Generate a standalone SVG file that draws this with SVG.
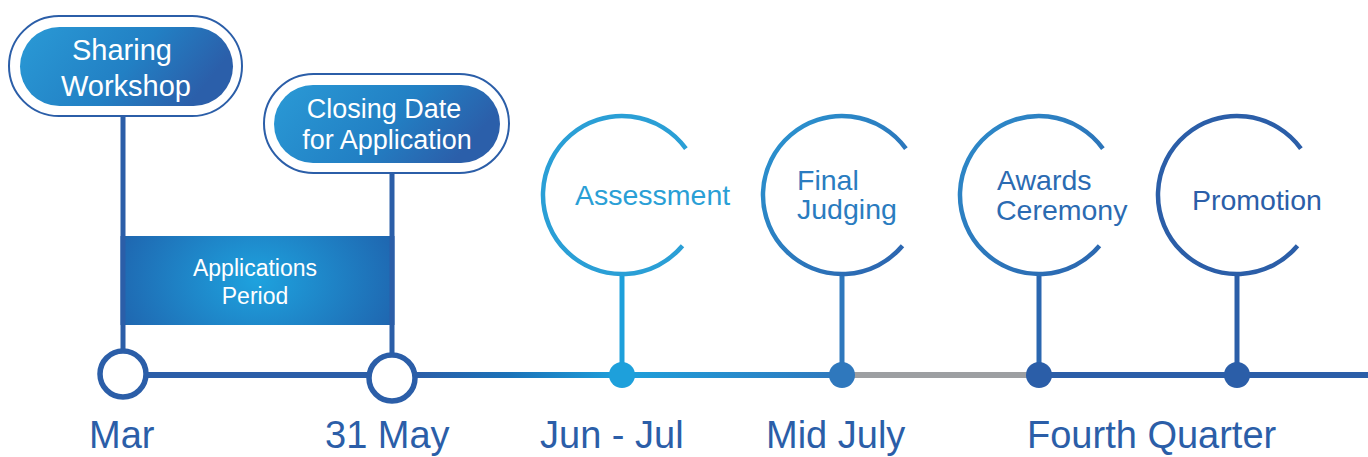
<svg xmlns="http://www.w3.org/2000/svg" width="1368" height="457" viewBox="0 0 1368 457">
<defs>
<linearGradient id="pill" x1="0" y1="0" x2="1" y2="0.3">
<stop offset="0" stop-color="#2a9ad6"/><stop offset="0.6" stop-color="#2280c4"/><stop offset="1" stop-color="#2b5faa"/>
</linearGradient>
<radialGradient id="rect" cx="0.5" cy="0.5" r="0.6" gradientTransform="translate(0.5 0.5) scale(1 2.2) translate(-0.5 -0.5)">
<stop offset="0" stop-color="#1ea2de"/><stop offset="1" stop-color="#1f60ab"/>
</radialGradient>
<linearGradient id="seg1" gradientUnits="userSpaceOnUse" x1="415" y1="0" x2="622" y2="0">
<stop offset="0" stop-color="#2b5ea8"/><stop offset="0.45" stop-color="#1b72b8"/><stop offset="1" stop-color="#1ea0db"/>
</linearGradient>
<linearGradient id="seg2" gradientUnits="userSpaceOnUse" x1="622" y1="0" x2="842" y2="0">
<stop offset="0" stop-color="#1ea0db"/><stop offset="1" stop-color="#2f78bd"/>
</linearGradient>
<linearGradient id="arcJ" x1="0" y1="0" x2="1" y2="1">
<stop offset="0" stop-color="#2a96d2"/><stop offset="1" stop-color="#2c62ad"/>
</linearGradient>
<linearGradient id="arcA" x1="0" y1="0" x2="1" y2="1">
<stop offset="0" stop-color="#2d8ccb"/><stop offset="1" stop-color="#2b65ae"/>
</linearGradient>
</defs>
<style>
.pillo{fill:#fff;stroke:#2b5ea8;stroke-width:2}
.pilli{fill:url(#pill)}
.wt{fill:#fff;font-family:"Liberation Sans",Arial,sans-serif;text-anchor:middle}
.ct{font-family:"Liberation Sans",Arial,sans-serif;font-size:28.5px}
.lab{font-family:"Liberation Sans",Arial,sans-serif;font-size:38px;fill:#2b5ea8}
.arc{fill:none;stroke-width:4.5}
.stem{stroke-width:5;fill:none}
.tl{stroke-width:6;fill:none}
</style>

<g id="connectors">
<line class="stem" x1="123" y1="116" x2="123" y2="351" stroke="#2b5ea8"/>
<line class="stem" x1="392" y1="173" x2="392" y2="356" stroke="#2b5ea8"/>
<line class="tl" x1="146" y1="375" x2="369" y2="375" stroke="#2b5ea8"/>
<line class="tl" x1="415" y1="375" x2="622" y2="375" stroke="url(#seg1)"/>
<line class="tl" x1="622" y1="375" x2="842" y2="375" stroke="url(#seg2)"/>
<line class="tl" x1="842" y1="375" x2="1039" y2="375" stroke="#9d9fa2"/>
<line class="tl" x1="1039" y1="375" x2="1368" y2="375" stroke="#2b5ea8"/>
<line class="stem" x1="622" y1="273" x2="622" y2="375" stroke="#1ea0db"/>
<line class="stem" x1="842" y1="273" x2="842" y2="375" stroke="#2f78bd"/>
<line class="stem" x1="1039" y1="273" x2="1039" y2="375" stroke="#2b67b0"/>
<line class="stem" x1="1237" y1="273" x2="1237" y2="375" stroke="#2b5ea8"/>
</g>

<g id="applications-period">
<rect x="122" y="236" width="270" height="89" fill="url(#rect)"/>
<line class="stem" x1="123" y1="236" x2="123" y2="325" stroke="#2b5ea8"/>
<line class="stem" x1="392" y1="236" x2="392" y2="325" stroke="#2b5ea8"/>
<text class="wt" x="255" y="276" font-size="23">Applications</text>
<text class="wt" x="255" y="304" font-size="23">Period</text>
</g>

<g id="sharing-workshop">
<rect class="pillo" x="9" y="16" width="233" height="100" rx="50"/>
<rect class="pilli" x="20" y="27" width="213" height="79" rx="39.5"/>
<text class="wt" x="122" y="60" font-size="29">Sharing</text>
<text class="wt" x="126" y="96" font-size="29">Workshop</text>
</g>

<g id="closing-date">
<rect class="pillo" x="264" y="74" width="245" height="99" rx="49.5"/>
<rect class="pilli" x="274" y="85" width="226" height="78" rx="39"/>
<text class="wt" x="384" y="118" font-size="27">Closing Date</text>
<text class="wt" x="387" y="149" font-size="27">for Application</text>
</g>

<g id="mar">
<circle cx="123" cy="374" r="23" fill="#fff" stroke="#2b5ea8" stroke-width="5.5"/>
<text class="lab" x="89" y="448">Mar</text>
</g>

<g id="may31">
<circle cx="392" cy="378" r="23" fill="#fff" stroke="#2b5ea8" stroke-width="5.5"/>
<text class="lab" x="325" y="448">31 May</text>
</g>

<g id="assessment">
<path class="arc" stroke="#2a9fd6" d="M685.9 148.6 A79 79 0 1 0 682.5 245.8"/>
<circle cx="622" cy="375" r="13" fill="#1ea0db"/>
<text class="ct" x="575" y="205" fill="#2a9fd6">Assessment</text>
<text class="lab" x="540" y="448">Jun - Jul</text>
</g>

<g id="final-judging">
<path class="arc" stroke="url(#arcJ)" d="M905.9 148.6 A79 79 0 1 0 902.5 245.8"/>
<circle cx="842" cy="375" r="13" fill="#2f78bd"/>
<text class="ct" x="797" y="190" fill="#2a7cc0">Final</text>
<text class="ct" x="797" y="219" fill="#2a7cc0">Judging</text>
<text class="lab" x="766" y="448">Mid July</text>
</g>

<g id="awards-ceremony">
<path class="arc" stroke="url(#arcA)" d="M1102.9 148.6 A79 79 0 1 0 1099.5 245.8"/>
<circle cx="1039" cy="375" r="13" fill="#2b5ea8"/>
<text class="ct" x="997" y="190" fill="#2b6bb2">Awards</text>
<text class="ct" x="996" y="220" fill="#2b6bb2">Ceremony</text>
</g>

<g id="promotion">
<path class="arc" stroke="#2b5ea8" d="M1300.9 148.6 A79 79 0 1 0 1297.5 245.8"/>
<circle cx="1237" cy="375" r="13" fill="#2b5ea8"/>
<text class="ct" x="1192" y="210" fill="#2b5ea8">Promotion</text>
</g>

<g id="fourth-quarter">
<text class="lab" x="1027" y="448">Fourth Quarter</text>
</g>
</svg>
